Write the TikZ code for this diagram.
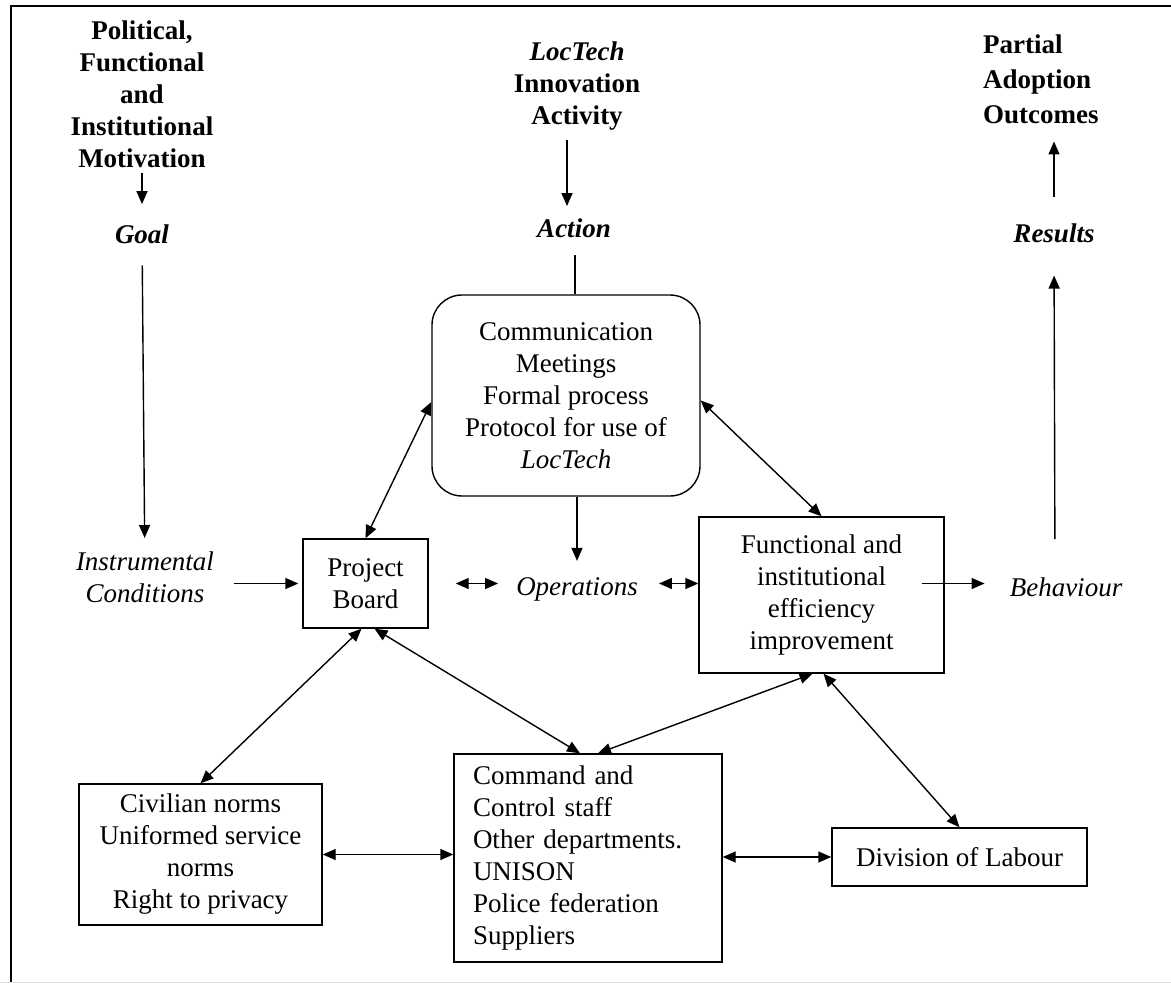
\documentclass[tikz,border=0pt]{standalone}
\usepackage{fontspec}
\setmainfont{Liberation Serif}
\usetikzlibrary{arrows.meta,calc,positioning}
\begin{document}
\begin{tikzpicture}[x=1pt,y=-1pt]
		\tikzstyle{every node}+=[inner sep=0pt,font=\fontsize{27}{32}\selectfont]
		\tikzstyle{box}=[draw,line width=1.4pt,align=center]
		\tikzstyle{boldlbl}=[align=center,font=\fontsize{27}{32}\selectfont\bfseries]
		\tikzstyle{itlbl}=[align=center,font=\fontsize{27}{32}\selectfont\itshape]
		\tikzstyle{bilbl}=[font=\fontsize{27}{32}\selectfont\bfseries\itshape]
		\tikzstyle{arr}=[line width=1.4pt,-{Triangle[length=13pt,width=11pt]}]
		\tikzstyle{dbl}=[line width=1.4pt,{Triangle[length=13pt,width=11pt]}-{Triangle[length=13pt,width=11pt]}]
		\useasboundingbox (0,0) rectangle (1171,983);
		\fill [white] (0,0) rectangle (1171,983);
		\draw [line width=2pt] (11,983) -- (11,6) -- (1171,6);
		\draw [gray!25,line width=1pt] (0,982.5) -- (1171,982.5);
		\node[boldlbl,anchor=north] (motiv) at (142,21) {Political,\\Functional\\and\\Institutional\\Motivation};
		\node[bilbl,anchor=base] (goal) at (142,243) {Goal};
		\node[itlbl,anchor=north] (instr) at (145,552) {Instrumental\\Conditions};
		\node[boldlbl,anchor=north] (loctech) at (577,42) {\textit{LocTech}\\Innovation\\Activity};
		\node[bilbl,anchor=base] (action) at (574,237) {Action};
		\node[boldlbl,anchor=north west,align=left,font=\fontsize{27}{35}\selectfont\bfseries] (outcomes) at (983,35) {Partial\\Adoption\\Outcomes};
		\node[bilbl,anchor=base] (results) at (1054,242) {Results};
		\node[box,rounded corners=30pt,minimum width=268pt,minimum height=201pt] (comm) at (566,395.5) {Communication\\Meetings\\Formal process\\Protocol for use of\\\textit{LocTech}};
		\node[box,minimum width=125pt,minimum height=89pt] (board) at (365.5,583.5) {Project\\Board};
		\node[itlbl,anchor=base] (ops) at (577,595) {Operations};
		\node[box,minimum width=245pt,minimum height=156pt] (func) at (821.5,595) {Functional and\\institutional\\efficiency\\improvement};
		\node[itlbl,anchor=base] (behav) at (1066,596) {Behaviour};
		\node[box,minimum width=243pt,minimum height=141pt] (civ) at (200.5,854.5) {Civilian norms\\Uniformed service\\norms\\Right to privacy};
		\node[box,align=left,text width=230pt,minimum width=268pt,minimum height=208pt] (cmd) at (588,858) {Command and\\Control staff\\Other departments.\\UNISON\\Police federation\\Suppliers};
		\node[box,minimum width=255pt,minimum height=58pt] (div) at (959.5,857) {Division of Labour};
		\draw [arr,shorten <=5pt,shorten >=20pt] (motiv) -- (goal);
		\draw [arr,shorten <=22pt,shorten >=14pt] (goal) -- (instr);
		\draw [arr,shorten >=4pt] ($(instr.east|-board.west)+(20,0)$) -- (board.west);
		\draw [arr,shorten <=9pt,shorten >=12pt] ([xshift=-10pt]loctech.south) -- ([xshift=-7pt]action.north);
		\draw [line width=1.4pt,shorten <=18pt] ([xshift=1pt]action.south) -- ([xshift=9pt]comm.north);
		\draw [arr,shorten >=16pt] ([xshift=11pt]comm.south) -- (ops.north);
		\draw [dbl,shorten <=27pt,shorten >=18pt] (board.east) -- (board.east-|ops.west);
		\draw [dbl,shorten <=21pt] (ops.east|-board.east) -- (func.west|-board.east);
		\draw [arr,shorten >=25pt] ($(func.east|-board.east)+(-23,0)$) -- (behav.west|-board.east);
		\draw [arr,shorten <=38pt,shorten >=33pt] ([xshift=-11pt]behav.north) -- (results.south);
		\draw [arr,shorten <=26pt,shorten >=17pt] (results.north) -- (results.north|-outcomes.south);
		\draw [dbl] ([yshift=-6.5pt]comm.west) -- (board.north);
		\draw [dbl] ([yshift=-5pt]comm.east) -- (func.north);
		\draw [dbl] ([xshift=-4pt]board.south) -- (civ.north);
		\draw [dbl] ([xshift=9pt]board.south) -- ([xshift=-8pt]cmd.north);
		\draw [dbl] ([xshift=10pt]cmd.north) -- ([xshift=-9pt]func.south);
		\draw [dbl] ([xshift=2pt]func.south) -- (div.north);
		\draw [dbl] (civ.east) -- (civ.east-|cmd.west);
		\draw [dbl] (cmd.east|-div.west) -- (div.west);
	\end{tikzpicture}
\end{document}
